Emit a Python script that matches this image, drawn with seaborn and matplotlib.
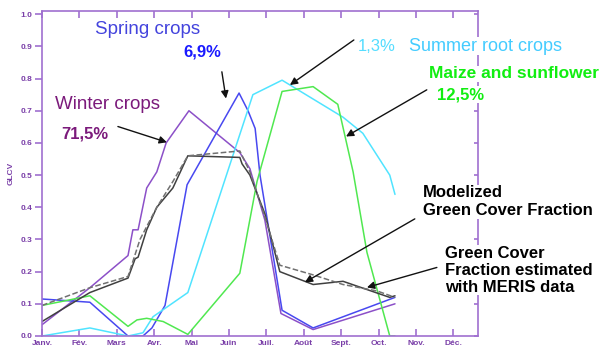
import pandas as pd
import seaborn as sns
import matplotlib.lines as mlines
from matplotlib import pyplot as plt

sns.set_style("white")
plt.rcParams["font.family"] = ["Liberation Sans", "DejaVu Sans"]

months = ["Janv.", "Fév.", "Mars", "Avr.", "Mai", "Juin",
          "Juil.", "Août", "Sept.", "Oct.", "Nov.", "Déc."]

# positions in months (0 = January)
winter_x = [0.0, 1.28, 2.30, 2.43, 2.57, 2.80, 3.07, 3.32, 3.93, 5.29, 5.56, 5.96, 6.39, 7.25, 9.44]
winter_y = [0.035, 0.15, 0.25, 0.33, 0.33, 0.46, 0.51, 0.60, 0.70, 0.57, 0.52, 0.36, 0.07, 0.02, 0.10]

spring_x = [0.0, 1.28, 2.30, 2.70, 2.94, 3.29, 3.88, 5.27, 5.51, 5.70, 5.83, 6.42, 7.25, 9.44]
spring_y = [0.115, 0.105, 0.0, 0.0, 0.025, 0.095, 0.47, 0.755, 0.70, 0.645, 0.50, 0.08, 0.025, 0.12]

summer_x = [0.0, 1.28, 2.30, 2.70, 2.97, 3.90, 5.64, 6.42, 8.05, 8.58, 9.30, 9.44]
summer_y = [0.0, 0.025, 0.0, 0.01, 0.06, 0.135, 0.75, 0.795, 0.68, 0.63, 0.50, 0.44]

maize_x = [0.0, 1.28, 2.30, 2.54, 2.80, 3.24, 3.90, 5.29, 5.75, 6.42, 7.25, 7.91, 8.32, 8.69, 9.30, 9.44]
maize_y = [0.095, 0.125, 0.03, 0.05, 0.055, 0.045, 0.005, 0.195, 0.48, 0.76, 0.775, 0.72, 0.51, 0.26, 0.0, 0.0]

meris_x = [0.0, 1.28, 2.30, 2.49, 2.57, 2.80, 3.07, 3.50, 3.90, 5.29, 5.35, 5.56, 5.96, 6.36, 7.25, 8.05, 9.30, 9.44]
meris_y = [0.045, 0.135, 0.18, 0.24, 0.245, 0.33, 0.40, 0.46, 0.56, 0.555, 0.535, 0.50, 0.38, 0.20, 0.16, 0.17, 0.12, 0.125]

model_x = [0.0, 1.28, 2.30, 2.62, 3.07, 3.50, 3.90, 5.29, 5.56, 5.96, 6.36, 7.25, 8.05, 8.96, 9.44]
model_y = [0.095, 0.15, 0.185, 0.30, 0.40, 0.48, 0.56, 0.575, 0.51, 0.37, 0.22, 0.19, 0.16, 0.14, 0.12]

frame = "#a070d0"
label_col = "#7a3fa8"

fig = plt.figure(figsize=(6.07, 3.51), dpi=100)
ax = fig.add_axes([42 / 607, 1 - 336 / 351, 436 / 607, 325 / 351])

series = [
    (winter_x, winter_y, "#8c50c8", "-"),
    (spring_x, spring_y, "#4848f0", "-"),
    (summer_x, summer_y, "#50e4ff", "-"),
    (maize_x, maize_y, "#50e850", "-"),
    (meris_x, meris_y, "#404040", "-"),
    (model_x, model_y, "#707070", "--"),
]
for xs, ys, col, ls in series:
    d = pd.DataFrame({"m": xs, "v": ys})
    sns.lineplot(data=d, x="m", y="v", sort=False, estimator=None,
                 color=col, linestyle=ls, linewidth=1.1, ax=ax)

ax.set_xlim(0, 11.66)
ax.set_ylim(0, 1.01)
ax.set_xticks(range(12))
ax.set_xticklabels(months)
ax.set_yticks([i / 10 for i in range(11)])
ax.set_yticklabels([f"{i / 10:.1f}" for i in range(11)])
ax.set_xlabel("")
ax.set_ylabel("GLCV", color=label_col, fontsize=6, fontweight="bold", labelpad=4)

for s in ax.spines.values():
    s.set_color(frame)
    s.set_linewidth(1.2)
ax.tick_params(axis="x", top=True, bottom=True, direction="in", length=5, width=1.2,
               color=frame, labelcolor=label_col, labelsize=6, pad=3)
ax.tick_params(axis="y", left=True, right=True, direction="out", length=5, width=1.2,
               color=frame, labelcolor=label_col, labelsize=6, pad=2)
for t in ax.get_xticklabels() + ax.get_yticklabels():
    t.set_fontweight("bold")
for tk in ax.yaxis.get_major_ticks():
    tk.tick2line.set_marker(mlines.TICKLEFT)
    tk.tick2line.set_markersize(3)

wb = dict(facecolor="white", edgecolor="none", pad=0.5)

ax.text(1.42, 0.951, "Spring crops", color="#4444dd", fontsize=13.5, va="center")
ax.text(3.77, 0.883, "6,9%", color="#1a1aff", fontsize=12, fontweight="bold", va="center")
ax.text(0.35, 0.719, "Winter crops", color="#7b1a7b", fontsize=13.5, va="center")
ax.text(0.51, 0.627, "71,5%", color="#7b1a7b", fontsize=12, fontweight="bold", va="center")
ax.text(8.45, 0.901, "1,3%", color="#55ddff", fontsize=12, va="center")
ax.text(9.81, 0.901, "Summer root crops", color="#44ccff", fontsize=13, va="center", bbox=wb)
ax.text(10.35, 0.815, "Maize and sunflower", color="#11ee11", fontsize=12.5,
        fontweight="bold", va="center", bbox=wb)
ax.text(10.56, 0.75, "12,5%", color="#11ee11", fontsize=12, fontweight="bold",
        va="center", bbox=wb)
ax.text(10.19, 0.417, "Modelized\nGreen Cover Fraction", color="black", fontsize=12,
        fontweight="bold", va="center", linespacing=1.25, bbox=wb)
ax.text(10.78, 0.204, "Green Cover\nFraction estimated\nwith MERIS data", color="black",
        fontsize=12, fontweight="bold", va="center", linespacing=1.15, bbox=wb)

arrows = [
    ((2.03, 0.651), (3.34, 0.602)),
    ((4.81, 0.821), (4.92, 0.738)),
    ((8.34, 0.92), (6.63, 0.78)),
    ((10.29, 0.765), (8.13, 0.62)),
    ((9.97, 0.364), (7.03, 0.167)),
    ((10.56, 0.213), (8.69, 0.151)),
]
for start, end in arrows:
    ax.annotate("", xy=end, xytext=start, annotation_clip=False,
                arrowprops=dict(arrowstyle="-|>", color="#111111", lw=1.0,
                                mutation_scale=11, shrinkA=0, shrinkB=0))

fig.savefig("out.png", dpi=100)
